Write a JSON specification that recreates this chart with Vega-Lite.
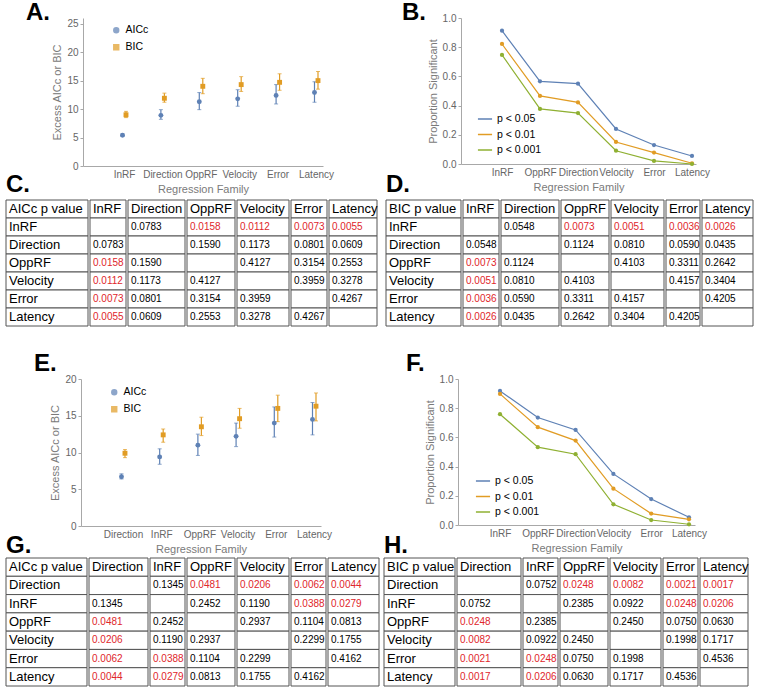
{
"$schema": "https://vega.github.io/schema/vega-lite/v6.json",
"background": "white",
"padding": {"left": 5, "top": 1, "right": 0, "bottom": 0},
"config": {
  "view": {"stroke": null},
  "axis": {"domainColor": "#a8a8a8", "tickColor": "#a8a8a8", "labelColor": "#666666", "titleColor": "#7a7a7a", "labelFont": "Liberation Sans", "titleFont": "Liberation Sans", "labelFontSize": 10, "titleFontSize": 11, "titleFontWeight": "normal", "grid": false, "tickSize": 3, "labelOverlap": false},
  "title": {"anchor": "start", "frame": "group", "font": "Liberation Sans", "fontSize": 24, "fontWeight": "bold", "color": "black"},
  "legend": {"labelFont": "Liberation Sans", "labelFontSize": 10.5, "labelColor": "black", "title": null, "padding": 0},
  "scale": {"bandPaddingInner": 0, "bandPaddingOuter": 0, "rectBandPaddingInner": 0},
  "rect": {"fill": "white", "stroke": "#555555", "strokeWidth": 1},
  "text": {"font": "Liberation Sans", "align": "left", "dx": 3, "baseline": "middle"}
},
"datasets": {
  "aicA": [
    {"family": "InRF", "criterion": "AICc", "value": 5.4, "lo": 5.2, "hi": 5.6},
    {"family": "InRF", "criterion": "BIC", "value": 9.0, "lo": 8.5, "hi": 9.6},
    {"family": "Direction", "criterion": "AICc", "value": 8.9, "lo": 8.2, "hi": 9.9},
    {"family": "Direction", "criterion": "BIC", "value": 11.9, "lo": 11.2, "hi": 12.8},
    {"family": "OppRF", "criterion": "AICc", "value": 11.3, "lo": 9.9, "hi": 12.9},
    {"family": "OppRF", "criterion": "BIC", "value": 14.0, "lo": 12.7, "hi": 15.4},
    {"family": "Velocity", "criterion": "AICc", "value": 11.8, "lo": 10.5, "hi": 13.4},
    {"family": "Velocity", "criterion": "BIC", "value": 14.3, "lo": 13.1, "hi": 15.7},
    {"family": "Error", "criterion": "AICc", "value": 12.4, "lo": 10.9, "hi": 14.3},
    {"family": "Error", "criterion": "BIC", "value": 14.7, "lo": 13.3, "hi": 16.2},
    {"family": "Latency", "criterion": "AICc", "value": 12.9, "lo": 11.2, "hi": 14.8},
    {"family": "Latency", "criterion": "BIC", "value": 15.0, "lo": 13.5, "hi": 16.6}
  ],
  "propB": [
    {"family": "InRF", "threshold": "p < 0.05", "proportion": 0.913},
    {"family": "OppRF", "threshold": "p < 0.05", "proportion": 0.566},
    {"family": "Direction", "threshold": "p < 0.05", "proportion": 0.550},
    {"family": "Velocity", "threshold": "p < 0.05", "proportion": 0.240},
    {"family": "Error", "threshold": "p < 0.05", "proportion": 0.130},
    {"family": "Latency", "threshold": "p < 0.05", "proportion": 0.055},
    {"family": "InRF", "threshold": "p < 0.01", "proportion": 0.822},
    {"family": "OppRF", "threshold": "p < 0.01", "proportion": 0.466},
    {"family": "Direction", "threshold": "p < 0.01", "proportion": 0.422},
    {"family": "Velocity", "threshold": "p < 0.01", "proportion": 0.151},
    {"family": "Error", "threshold": "p < 0.01", "proportion": 0.078},
    {"family": "Latency", "threshold": "p < 0.01", "proportion": 0.005},
    {"family": "InRF", "threshold": "p < 0.001", "proportion": 0.747},
    {"family": "OppRF", "threshold": "p < 0.001", "proportion": 0.377},
    {"family": "Direction", "threshold": "p < 0.001", "proportion": 0.349},
    {"family": "Velocity", "threshold": "p < 0.001", "proportion": 0.091},
    {"family": "Error", "threshold": "p < 0.001", "proportion": 0.021},
    {"family": "Latency", "threshold": "p < 0.001", "proportion": 0.0}
  ],
  "aicE": [
    {"family": "Direction", "criterion": "AICc", "value": 6.7, "lo": 6.4, "hi": 7.1},
    {"family": "Direction", "criterion": "BIC", "value": 9.9, "lo": 9.3, "hi": 10.4},
    {"family": "InRF", "criterion": "AICc", "value": 9.4, "lo": 8.4, "hi": 10.5},
    {"family": "InRF", "criterion": "BIC", "value": 12.4, "lo": 11.4, "hi": 13.2},
    {"family": "OppRF", "criterion": "AICc", "value": 11.0, "lo": 9.6, "hi": 12.5},
    {"family": "OppRF", "criterion": "BIC", "value": 13.5, "lo": 12.3, "hi": 14.8},
    {"family": "Velocity", "criterion": "AICc", "value": 12.2, "lo": 10.8, "hi": 14.0},
    {"family": "Velocity", "criterion": "BIC", "value": 14.6, "lo": 13.3, "hi": 16.0},
    {"family": "Error", "criterion": "AICc", "value": 14.0, "lo": 12.1, "hi": 16.2},
    {"family": "Error", "criterion": "BIC", "value": 16.0, "lo": 14.2, "hi": 17.8},
    {"family": "Latency", "criterion": "AICc", "value": 14.5, "lo": 12.4, "hi": 16.8},
    {"family": "Latency", "criterion": "BIC", "value": 16.3, "lo": 14.3, "hi": 18.1}
  ],
  "propF": [
    {"family": "InRF", "threshold": "p < 0.05", "proportion": 0.918},
    {"family": "OppRF", "threshold": "p < 0.05", "proportion": 0.736},
    {"family": "Direction", "threshold": "p < 0.05", "proportion": 0.651},
    {"family": "Velocity", "threshold": "p < 0.05", "proportion": 0.350},
    {"family": "Error", "threshold": "p < 0.05", "proportion": 0.178},
    {"family": "Latency", "threshold": "p < 0.05", "proportion": 0.053},
    {"family": "InRF", "threshold": "p < 0.01", "proportion": 0.898},
    {"family": "OppRF", "threshold": "p < 0.01", "proportion": 0.670},
    {"family": "Direction", "threshold": "p < 0.01", "proportion": 0.578},
    {"family": "Velocity", "threshold": "p < 0.01", "proportion": 0.249},
    {"family": "Error", "threshold": "p < 0.01", "proportion": 0.078},
    {"family": "Latency", "threshold": "p < 0.01", "proportion": 0.039},
    {"family": "InRF", "threshold": "p < 0.001", "proportion": 0.759},
    {"family": "OppRF", "threshold": "p < 0.001", "proportion": 0.533},
    {"family": "Direction", "threshold": "p < 0.001", "proportion": 0.485},
    {"family": "Velocity", "threshold": "p < 0.001", "proportion": 0.142},
    {"family": "Error", "threshold": "p < 0.001", "proportion": 0.034},
    {"family": "Latency", "threshold": "p < 0.001", "proportion": 0.005}
  ],
  "tC": [
    {"row": "header", "col": "label", "value": "AICc p value"},
    {"row": "header", "col": "InRF", "value": "InRF"},
    {"row": "header", "col": "Direction", "value": "Direction"},
    {"row": "header", "col": "OppRF", "value": "OppRF"},
    {"row": "header", "col": "Velocity", "value": "Velocity"},
    {"row": "header", "col": "Error", "value": "Error"},
    {"row": "header", "col": "Latency", "value": "Latency"},
    {"row": "InRF", "col": "label", "value": "InRF"},
    {"row": "InRF", "col": "InRF", "value": ""},
    {"row": "InRF", "col": "Direction", "value": "0.0783"},
    {"row": "InRF", "col": "OppRF", "value": "0.0158", "sig": true},
    {"row": "InRF", "col": "Velocity", "value": "0.0112", "sig": true},
    {"row": "InRF", "col": "Error", "value": "0.0073", "sig": true},
    {"row": "InRF", "col": "Latency", "value": "0.0055", "sig": true},
    {"row": "Direction", "col": "label", "value": "Direction"},
    {"row": "Direction", "col": "InRF", "value": "0.0783"},
    {"row": "Direction", "col": "Direction", "value": ""},
    {"row": "Direction", "col": "OppRF", "value": "0.1590"},
    {"row": "Direction", "col": "Velocity", "value": "0.1173"},
    {"row": "Direction", "col": "Error", "value": "0.0801"},
    {"row": "Direction", "col": "Latency", "value": "0.0609"},
    {"row": "OppRF", "col": "label", "value": "OppRF"},
    {"row": "OppRF", "col": "InRF", "value": "0.0158", "sig": true},
    {"row": "OppRF", "col": "Direction", "value": "0.1590"},
    {"row": "OppRF", "col": "OppRF", "value": ""},
    {"row": "OppRF", "col": "Velocity", "value": "0.4127"},
    {"row": "OppRF", "col": "Error", "value": "0.3154"},
    {"row": "OppRF", "col": "Latency", "value": "0.2553"},
    {"row": "Velocity", "col": "label", "value": "Velocity"},
    {"row": "Velocity", "col": "InRF", "value": "0.0112", "sig": true},
    {"row": "Velocity", "col": "Direction", "value": "0.1173"},
    {"row": "Velocity", "col": "OppRF", "value": "0.4127"},
    {"row": "Velocity", "col": "Velocity", "value": ""},
    {"row": "Velocity", "col": "Error", "value": "0.3959"},
    {"row": "Velocity", "col": "Latency", "value": "0.3278"},
    {"row": "Error", "col": "label", "value": "Error"},
    {"row": "Error", "col": "InRF", "value": "0.0073", "sig": true},
    {"row": "Error", "col": "Direction", "value": "0.0801"},
    {"row": "Error", "col": "OppRF", "value": "0.3154"},
    {"row": "Error", "col": "Velocity", "value": "0.3959"},
    {"row": "Error", "col": "Error", "value": ""},
    {"row": "Error", "col": "Latency", "value": "0.4267"},
    {"row": "Latency", "col": "label", "value": "Latency"},
    {"row": "Latency", "col": "InRF", "value": "0.0055", "sig": true},
    {"row": "Latency", "col": "Direction", "value": "0.0609"},
    {"row": "Latency", "col": "OppRF", "value": "0.2553"},
    {"row": "Latency", "col": "Velocity", "value": "0.3278"},
    {"row": "Latency", "col": "Error", "value": "0.4267"},
    {"row": "Latency", "col": "Latency", "value": ""}
  ],
  "tD": [
    {"row": "header", "col": "label", "value": "BIC p value"},
    {"row": "header", "col": "InRF", "value": "InRF"},
    {"row": "header", "col": "Direction", "value": "Direction"},
    {"row": "header", "col": "OppRF", "value": "OppRF"},
    {"row": "header", "col": "Velocity", "value": "Velocity"},
    {"row": "header", "col": "Error", "value": "Error"},
    {"row": "header", "col": "Latency", "value": "Latency"},
    {"row": "InRF", "col": "label", "value": "InRF"},
    {"row": "InRF", "col": "InRF", "value": ""},
    {"row": "InRF", "col": "Direction", "value": "0.0548"},
    {"row": "InRF", "col": "OppRF", "value": "0.0073", "sig": true},
    {"row": "InRF", "col": "Velocity", "value": "0.0051", "sig": true},
    {"row": "InRF", "col": "Error", "value": "0.0036", "sig": true},
    {"row": "InRF", "col": "Latency", "value": "0.0026", "sig": true},
    {"row": "Direction", "col": "label", "value": "Direction"},
    {"row": "Direction", "col": "InRF", "value": "0.0548"},
    {"row": "Direction", "col": "Direction", "value": ""},
    {"row": "Direction", "col": "OppRF", "value": "0.1124"},
    {"row": "Direction", "col": "Velocity", "value": "0.0810"},
    {"row": "Direction", "col": "Error", "value": "0.0590"},
    {"row": "Direction", "col": "Latency", "value": "0.0435"},
    {"row": "OppRF", "col": "label", "value": "OppRF"},
    {"row": "OppRF", "col": "InRF", "value": "0.0073", "sig": true},
    {"row": "OppRF", "col": "Direction", "value": "0.1124"},
    {"row": "OppRF", "col": "OppRF", "value": ""},
    {"row": "OppRF", "col": "Velocity", "value": "0.4103"},
    {"row": "OppRF", "col": "Error", "value": "0.3311"},
    {"row": "OppRF", "col": "Latency", "value": "0.2642"},
    {"row": "Velocity", "col": "label", "value": "Velocity"},
    {"row": "Velocity", "col": "InRF", "value": "0.0051", "sig": true},
    {"row": "Velocity", "col": "Direction", "value": "0.0810"},
    {"row": "Velocity", "col": "OppRF", "value": "0.4103"},
    {"row": "Velocity", "col": "Velocity", "value": ""},
    {"row": "Velocity", "col": "Error", "value": "0.4157"},
    {"row": "Velocity", "col": "Latency", "value": "0.3404"},
    {"row": "Error", "col": "label", "value": "Error"},
    {"row": "Error", "col": "InRF", "value": "0.0036", "sig": true},
    {"row": "Error", "col": "Direction", "value": "0.0590"},
    {"row": "Error", "col": "OppRF", "value": "0.3311"},
    {"row": "Error", "col": "Velocity", "value": "0.4157"},
    {"row": "Error", "col": "Error", "value": ""},
    {"row": "Error", "col": "Latency", "value": "0.4205"},
    {"row": "Latency", "col": "label", "value": "Latency"},
    {"row": "Latency", "col": "InRF", "value": "0.0026", "sig": true},
    {"row": "Latency", "col": "Direction", "value": "0.0435"},
    {"row": "Latency", "col": "OppRF", "value": "0.2642"},
    {"row": "Latency", "col": "Velocity", "value": "0.3404"},
    {"row": "Latency", "col": "Error", "value": "0.4205"},
    {"row": "Latency", "col": "Latency", "value": ""}
  ],
  "tG": [
    {"row": "header", "col": "label", "value": "AICc p value"},
    {"row": "header", "col": "Direction", "value": "Direction"},
    {"row": "header", "col": "InRF", "value": "InRF"},
    {"row": "header", "col": "OppRF", "value": "OppRF"},
    {"row": "header", "col": "Velocity", "value": "Velocity"},
    {"row": "header", "col": "Error", "value": "Error"},
    {"row": "header", "col": "Latency", "value": "Latency"},
    {"row": "Direction", "col": "label", "value": "Direction"},
    {"row": "Direction", "col": "Direction", "value": ""},
    {"row": "Direction", "col": "InRF", "value": "0.1345"},
    {"row": "Direction", "col": "OppRF", "value": "0.0481", "sig": true},
    {"row": "Direction", "col": "Velocity", "value": "0.0206", "sig": true},
    {"row": "Direction", "col": "Error", "value": "0.0062", "sig": true},
    {"row": "Direction", "col": "Latency", "value": "0.0044", "sig": true},
    {"row": "InRF", "col": "label", "value": "InRF"},
    {"row": "InRF", "col": "Direction", "value": "0.1345"},
    {"row": "InRF", "col": "InRF", "value": ""},
    {"row": "InRF", "col": "OppRF", "value": "0.2452"},
    {"row": "InRF", "col": "Velocity", "value": "0.1190"},
    {"row": "InRF", "col": "Error", "value": "0.0388", "sig": true},
    {"row": "InRF", "col": "Latency", "value": "0.0279", "sig": true},
    {"row": "OppRF", "col": "label", "value": "OppRF"},
    {"row": "OppRF", "col": "Direction", "value": "0.0481", "sig": true},
    {"row": "OppRF", "col": "InRF", "value": "0.2452"},
    {"row": "OppRF", "col": "OppRF", "value": ""},
    {"row": "OppRF", "col": "Velocity", "value": "0.2937"},
    {"row": "OppRF", "col": "Error", "value": "0.1104"},
    {"row": "OppRF", "col": "Latency", "value": "0.0813"},
    {"row": "Velocity", "col": "label", "value": "Velocity"},
    {"row": "Velocity", "col": "Direction", "value": "0.0206", "sig": true},
    {"row": "Velocity", "col": "InRF", "value": "0.1190"},
    {"row": "Velocity", "col": "OppRF", "value": "0.2937"},
    {"row": "Velocity", "col": "Velocity", "value": ""},
    {"row": "Velocity", "col": "Error", "value": "0.2299"},
    {"row": "Velocity", "col": "Latency", "value": "0.1755"},
    {"row": "Error", "col": "label", "value": "Error"},
    {"row": "Error", "col": "Direction", "value": "0.0062", "sig": true},
    {"row": "Error", "col": "InRF", "value": "0.0388", "sig": true},
    {"row": "Error", "col": "OppRF", "value": "0.1104"},
    {"row": "Error", "col": "Velocity", "value": "0.2299"},
    {"row": "Error", "col": "Error", "value": ""},
    {"row": "Error", "col": "Latency", "value": "0.4162"},
    {"row": "Latency", "col": "label", "value": "Latency"},
    {"row": "Latency", "col": "Direction", "value": "0.0044", "sig": true},
    {"row": "Latency", "col": "InRF", "value": "0.0279", "sig": true},
    {"row": "Latency", "col": "OppRF", "value": "0.0813"},
    {"row": "Latency", "col": "Velocity", "value": "0.1755"},
    {"row": "Latency", "col": "Error", "value": "0.4162"},
    {"row": "Latency", "col": "Latency", "value": ""}
  ],
  "tH": [
    {"row": "header", "col": "label", "value": "BIC p value"},
    {"row": "header", "col": "Direction", "value": "Direction"},
    {"row": "header", "col": "InRF", "value": "InRF"},
    {"row": "header", "col": "OppRF", "value": "OppRF"},
    {"row": "header", "col": "Velocity", "value": "Velocity"},
    {"row": "header", "col": "Error", "value": "Error"},
    {"row": "header", "col": "Latency", "value": "Latency"},
    {"row": "Direction", "col": "label", "value": "Direction"},
    {"row": "Direction", "col": "Direction", "value": ""},
    {"row": "Direction", "col": "InRF", "value": "0.0752"},
    {"row": "Direction", "col": "OppRF", "value": "0.0248", "sig": true},
    {"row": "Direction", "col": "Velocity", "value": "0.0082", "sig": true},
    {"row": "Direction", "col": "Error", "value": "0.0021", "sig": true},
    {"row": "Direction", "col": "Latency", "value": "0.0017", "sig": true},
    {"row": "InRF", "col": "label", "value": "InRF"},
    {"row": "InRF", "col": "Direction", "value": "0.0752"},
    {"row": "InRF", "col": "InRF", "value": ""},
    {"row": "InRF", "col": "OppRF", "value": "0.2385"},
    {"row": "InRF", "col": "Velocity", "value": "0.0922"},
    {"row": "InRF", "col": "Error", "value": "0.0248", "sig": true},
    {"row": "InRF", "col": "Latency", "value": "0.0206", "sig": true},
    {"row": "OppRF", "col": "label", "value": "OppRF"},
    {"row": "OppRF", "col": "Direction", "value": "0.0248", "sig": true},
    {"row": "OppRF", "col": "InRF", "value": "0.2385"},
    {"row": "OppRF", "col": "OppRF", "value": ""},
    {"row": "OppRF", "col": "Velocity", "value": "0.2450"},
    {"row": "OppRF", "col": "Error", "value": "0.0750"},
    {"row": "OppRF", "col": "Latency", "value": "0.0630"},
    {"row": "Velocity", "col": "label", "value": "Velocity"},
    {"row": "Velocity", "col": "Direction", "value": "0.0082", "sig": true},
    {"row": "Velocity", "col": "InRF", "value": "0.0922"},
    {"row": "Velocity", "col": "OppRF", "value": "0.2450"},
    {"row": "Velocity", "col": "Velocity", "value": ""},
    {"row": "Velocity", "col": "Error", "value": "0.1998"},
    {"row": "Velocity", "col": "Latency", "value": "0.1717"},
    {"row": "Error", "col": "label", "value": "Error"},
    {"row": "Error", "col": "Direction", "value": "0.0021", "sig": true},
    {"row": "Error", "col": "InRF", "value": "0.0248", "sig": true},
    {"row": "Error", "col": "OppRF", "value": "0.0750"},
    {"row": "Error", "col": "Velocity", "value": "0.1998"},
    {"row": "Error", "col": "Error", "value": ""},
    {"row": "Error", "col": "Latency", "value": "0.4536"},
    {"row": "Latency", "col": "label", "value": "Latency"},
    {"row": "Latency", "col": "Direction", "value": "0.0017", "sig": true},
    {"row": "Latency", "col": "InRF", "value": "0.0206", "sig": true},
    {"row": "Latency", "col": "OppRF", "value": "0.0630"},
    {"row": "Latency", "col": "Velocity", "value": "0.1717"},
    {"row": "Latency", "col": "Error", "value": "0.4536"},
    {"row": "Latency", "col": "Latency", "value": ""}
  ]
},
"spacing": 25,
"resolve": {"scale": {"color": "independent", "shape": "independent"}, "legend": {"color": "independent", "shape": "independent"}},
"vconcat": [
 {"spacing": -22,
  "resolve": {"scale": {"color": "independent", "shape": "independent"}, "legend": {"color": "independent", "shape": "independent"}},
  "vconcat": [
  {"spacing": 68,
   "resolve": {"scale": {"color": "independent", "shape": "independent"}, "legend": {"color": "independent", "shape": "independent"}},
   "hconcat": [
   {"width": 317, "height": 148, "title": {"text": "A.", "dx": 20, "offset": -7},
    "data": {"name": "aicA"},
    "encoding": {"x": {"field": "family", "type": "nominal", "scale": {"type": "point", "domain": ["InRF", "Direction", "OppRF", "Velocity", "Error", "Latency"], "range": [77, 317], "padding": 0.625, "align": 0.854}, "axis": {"title": "Regression Family", "labelAngle": 0, "tickSize": 0, "labelPadding": 3, "titlePadding": 4}}},
    "layer": [
     {"mark": {"type": "rule", "strokeWidth": 1.2, "xOffset": {"expr": "datum.criterion === 'AICc' ? -1.5 : 2"}}, "encoding": {"y": {"field": "lo", "type": "quantitative", "scale": {"domain": [0, 25]}, "axis": {"title": "Excess AICc or BIC", "values": [0, 5, 10, 15, 20, 25], "titlePadding": 4, "offset": -77}}, "y2": {"field": "hi"}, "color": {"field": "criterion", "type": "nominal", "scale": {"domain": ["AICc", "BIC"], "range": ["#5E81B5", "#E19C24"]}}}},
     {"mark": {"type": "tick", "thickness": 1, "size": 4, "xOffset": {"expr": "datum.criterion === 'AICc' ? -1.5 : 2"}}, "encoding": {"y": {"field": "lo", "type": "quantitative", "axis": {"title": "Excess AICc or BIC", "values": [0, 5, 10, 15, 20, 25], "titlePadding": 4, "offset": -77}}, "color": {"field": "criterion", "type": "nominal"}}},
     {"mark": {"type": "tick", "thickness": 1, "size": 4, "xOffset": {"expr": "datum.criterion === 'AICc' ? -1.5 : 2"}}, "encoding": {"y": {"field": "hi", "type": "quantitative", "axis": {"title": "Excess AICc or BIC", "values": [0, 5, 10, 15, 20, 25], "titlePadding": 4, "offset": -77}}, "color": {"field": "criterion", "type": "nominal"}}},
     {"mark": {"type": "point", "filled": true, "opacity": 1, "size": 24, "xOffset": {"expr": "datum.criterion === 'AICc' ? -1.5 : 2"}}, "encoding": {"y": {"field": "value", "type": "quantitative", "axis": {"title": "Excess AICc or BIC", "values": [0, 5, 10, 15, 20, 25], "titlePadding": 4, "offset": -77}}, "color": {"field": "criterion", "type": "nominal", "legend": {"orient": "none", "legendX": 105, "legendY": 7, "symbolSize": 24, "rowPadding": 5}}, "shape": {"field": "criterion", "type": "nominal", "scale": {"domain": ["AICc", "BIC"], "range": ["circle", "square"]}, "legend": {"orient": "none", "legendX": 105, "legendY": 7, "symbolSize": 24, "rowPadding": 5}}}}
    ]},
   {"width": 235, "height": 146, "title": {"text": "B.", "dx": -59, "offset": -12},
    "data": {"name": "propB"},
    "encoding": {
     "x": {"field": "family", "type": "nominal", "scale": {"type": "point", "domain": ["InRF", "OppRF", "Direction", "Velocity", "Error", "Latency"], "padding": 0.592, "align": 0.911}, "axis": {"title": "Regression Family", "labelAngle": 0, "tickSize": 0, "labelPadding": 3, "titlePadding": 4}},
     "y": {"field": "proportion", "type": "quantitative", "scale": {"domain": [0, 1]}, "axis": {"title": "Proportion Significant", "values": [0, 0.2, 0.4, 0.6, 0.8, 1], "format": ".1f", "titlePadding": 4}},
     "color": {"field": "threshold", "type": "nominal", "scale": {"domain": ["p < 0.05", "p < 0.01", "p < 0.001"], "range": ["#5E81B5", "#E19C24", "#8FB032"]}, "legend": {"orient": "none", "legendX": 16, "legendY": 93, "symbolType": "stroke", "symbolSize": 200, "symbolStrokeWidth": 1.5, "rowPadding": 1.5}},
     "order": {"value": null}},
    "layer": [
     {"mark": {"type": "line", "strokeWidth": 1.2}},
     {"mark": {"type": "point", "filled": true, "opacity": 1, "size": 18, "shape": "circle"}}
    ]}
  ]},
  {"spacing": 7, "hconcat": [
   {"title": {"text": "C.", "offset": 3}, "spacing": 0, "hconcat": [
    {"width": 82, "height": 126, "data": {"name": "tC"}, "transform": [{"filter": "datum.col === 'label'"}], "encoding": {"y": {"field": "row", "type": "nominal", "scale": {"domain": ["header", "InRF", "Direction", "OppRF", "Velocity", "Error", "Latency"]}, "axis": null}, "x": {"datum": "c", "type": "nominal", "axis": null}}, "layer": [{"mark": "rect"}, {"mark": "text", "encoding": {"x": {"datum": "c", "type": "nominal", "bandPosition": 0, "axis": null}, "text": {"field": "value"}, "color": {"condition": {"test": "datum.sig", "value": "#e0262b"}, "value": "black"}, "size": {"condition": {"test": "datum.row === 'header' || datum.col === 'label'", "value": 13}, "value": 10}}}]},
    {"width": 36, "height": 126, "data": {"name": "tC"}, "transform": [{"filter": "datum.col === 'InRF'"}], "encoding": {"y": {"field": "row", "type": "nominal", "scale": {"domain": ["header", "InRF", "Direction", "OppRF", "Velocity", "Error", "Latency"]}, "axis": null}, "x": {"datum": "c", "type": "nominal", "axis": null}}, "layer": [{"mark": "rect"}, {"mark": "text", "encoding": {"x": {"datum": "c", "type": "nominal", "bandPosition": 0, "axis": null}, "text": {"field": "value"}, "color": {"condition": {"test": "datum.sig", "value": "#e0262b"}, "value": "black"}, "size": {"condition": {"test": "datum.row === 'header' || datum.col === 'label'", "value": 13}, "value": 10}}}]},
    {"width": 57, "height": 126, "data": {"name": "tC"}, "transform": [{"filter": "datum.col === 'Direction'"}], "encoding": {"y": {"field": "row", "type": "nominal", "scale": {"domain": ["header", "InRF", "Direction", "OppRF", "Velocity", "Error", "Latency"]}, "axis": null}, "x": {"datum": "c", "type": "nominal", "axis": null}}, "layer": [{"mark": "rect"}, {"mark": "text", "encoding": {"x": {"datum": "c", "type": "nominal", "bandPosition": 0, "axis": null}, "text": {"field": "value"}, "color": {"condition": {"test": "datum.sig", "value": "#e0262b"}, "value": "black"}, "size": {"condition": {"test": "datum.row === 'header' || datum.col === 'label'", "value": 13}, "value": 10}}}]},
    {"width": 48, "height": 126, "data": {"name": "tC"}, "transform": [{"filter": "datum.col === 'OppRF'"}], "encoding": {"y": {"field": "row", "type": "nominal", "scale": {"domain": ["header", "InRF", "Direction", "OppRF", "Velocity", "Error", "Latency"]}, "axis": null}, "x": {"datum": "c", "type": "nominal", "axis": null}}, "layer": [{"mark": "rect"}, {"mark": "text", "encoding": {"x": {"datum": "c", "type": "nominal", "bandPosition": 0, "axis": null}, "text": {"field": "value"}, "color": {"condition": {"test": "datum.sig", "value": "#e0262b"}, "value": "black"}, "size": {"condition": {"test": "datum.row === 'header' || datum.col === 'label'", "value": 13}, "value": 10}}}]},
    {"width": 52, "height": 126, "data": {"name": "tC"}, "transform": [{"filter": "datum.col === 'Velocity'"}], "encoding": {"y": {"field": "row", "type": "nominal", "scale": {"domain": ["header", "InRF", "Direction", "OppRF", "Velocity", "Error", "Latency"]}, "axis": null}, "x": {"datum": "c", "type": "nominal", "axis": null}}, "layer": [{"mark": "rect"}, {"mark": "text", "encoding": {"x": {"datum": "c", "type": "nominal", "bandPosition": 0, "axis": null}, "text": {"field": "value"}, "color": {"condition": {"test": "datum.sig", "value": "#e0262b"}, "value": "black"}, "size": {"condition": {"test": "datum.row === 'header' || datum.col === 'label'", "value": 13}, "value": 10}}}]},
    {"width": 36, "height": 126, "data": {"name": "tC"}, "transform": [{"filter": "datum.col === 'Error'"}], "encoding": {"y": {"field": "row", "type": "nominal", "scale": {"domain": ["header", "InRF", "Direction", "OppRF", "Velocity", "Error", "Latency"]}, "axis": null}, "x": {"datum": "c", "type": "nominal", "axis": null}}, "layer": [{"mark": "rect"}, {"mark": "text", "encoding": {"x": {"datum": "c", "type": "nominal", "bandPosition": 0, "axis": null}, "text": {"field": "value"}, "color": {"condition": {"test": "datum.sig", "value": "#e0262b"}, "value": "black"}, "size": {"condition": {"test": "datum.row === 'header' || datum.col === 'label'", "value": 13}, "value": 10}}}]},
    {"width": 48, "height": 126, "data": {"name": "tC"}, "transform": [{"filter": "datum.col === 'Latency'"}], "encoding": {"y": {"field": "row", "type": "nominal", "scale": {"domain": ["header", "InRF", "Direction", "OppRF", "Velocity", "Error", "Latency"]}, "axis": null}, "x": {"datum": "c", "type": "nominal", "axis": null}}, "layer": [{"mark": "rect"}, {"mark": "text", "encoding": {"x": {"datum": "c", "type": "nominal", "bandPosition": 0, "axis": null}, "text": {"field": "value"}, "color": {"condition": {"test": "datum.sig", "value": "#e0262b"}, "value": "black"}, "size": {"condition": {"test": "datum.row === 'header' || datum.col === 'label'", "value": 13}, "value": 10}}}]}
   ]},
   {"title": {"text": "D.", "offset": 3}, "spacing": 0, "hconcat": [
    {"width": 75, "height": 126, "data": {"name": "tD"}, "transform": [{"filter": "datum.col === 'label'"}], "encoding": {"y": {"field": "row", "type": "nominal", "scale": {"domain": ["header", "InRF", "Direction", "OppRF", "Velocity", "Error", "Latency"]}, "axis": null}, "x": {"datum": "c", "type": "nominal", "axis": null}}, "layer": [{"mark": "rect"}, {"mark": "text", "encoding": {"x": {"datum": "c", "type": "nominal", "bandPosition": 0, "axis": null}, "text": {"field": "value"}, "color": {"condition": {"test": "datum.sig", "value": "#e0262b"}, "value": "black"}, "size": {"condition": {"test": "datum.row === 'header' || datum.col === 'label'", "value": 13}, "value": 10}}}]},
    {"width": 36, "height": 126, "data": {"name": "tD"}, "transform": [{"filter": "datum.col === 'InRF'"}], "encoding": {"y": {"field": "row", "type": "nominal", "scale": {"domain": ["header", "InRF", "Direction", "OppRF", "Velocity", "Error", "Latency"]}, "axis": null}, "x": {"datum": "c", "type": "nominal", "axis": null}}, "layer": [{"mark": "rect"}, {"mark": "text", "encoding": {"x": {"datum": "c", "type": "nominal", "bandPosition": 0, "axis": null}, "text": {"field": "value"}, "color": {"condition": {"test": "datum.sig", "value": "#e0262b"}, "value": "black"}, "size": {"condition": {"test": "datum.row === 'header' || datum.col === 'label'", "value": 13}, "value": 10}}}]},
    {"width": 58, "height": 126, "data": {"name": "tD"}, "transform": [{"filter": "datum.col === 'Direction'"}], "encoding": {"y": {"field": "row", "type": "nominal", "scale": {"domain": ["header", "InRF", "Direction", "OppRF", "Velocity", "Error", "Latency"]}, "axis": null}, "x": {"datum": "c", "type": "nominal", "axis": null}}, "layer": [{"mark": "rect"}, {"mark": "text", "encoding": {"x": {"datum": "c", "type": "nominal", "bandPosition": 0, "axis": null}, "text": {"field": "value"}, "color": {"condition": {"test": "datum.sig", "value": "#e0262b"}, "value": "black"}, "size": {"condition": {"test": "datum.row === 'header' || datum.col === 'label'", "value": 13}, "value": 10}}}]},
    {"width": 48, "height": 126, "data": {"name": "tD"}, "transform": [{"filter": "datum.col === 'OppRF'"}], "encoding": {"y": {"field": "row", "type": "nominal", "scale": {"domain": ["header", "InRF", "Direction", "OppRF", "Velocity", "Error", "Latency"]}, "axis": null}, "x": {"datum": "c", "type": "nominal", "axis": null}}, "layer": [{"mark": "rect"}, {"mark": "text", "encoding": {"x": {"datum": "c", "type": "nominal", "bandPosition": 0, "axis": null}, "text": {"field": "value"}, "color": {"condition": {"test": "datum.sig", "value": "#e0262b"}, "value": "black"}, "size": {"condition": {"test": "datum.row === 'header' || datum.col === 'label'", "value": 13}, "value": 10}}}]},
    {"width": 53, "height": 126, "data": {"name": "tD"}, "transform": [{"filter": "datum.col === 'Velocity'"}], "encoding": {"y": {"field": "row", "type": "nominal", "scale": {"domain": ["header", "InRF", "Direction", "OppRF", "Velocity", "Error", "Latency"]}, "axis": null}, "x": {"datum": "c", "type": "nominal", "axis": null}}, "layer": [{"mark": "rect"}, {"mark": "text", "encoding": {"x": {"datum": "c", "type": "nominal", "bandPosition": 0, "axis": null}, "text": {"field": "value"}, "color": {"condition": {"test": "datum.sig", "value": "#e0262b"}, "value": "black"}, "size": {"condition": {"test": "datum.row === 'header' || datum.col === 'label'", "value": 13}, "value": 10}}}]},
    {"width": 34, "height": 126, "data": {"name": "tD"}, "transform": [{"filter": "datum.col === 'Error'"}], "encoding": {"y": {"field": "row", "type": "nominal", "scale": {"domain": ["header", "InRF", "Direction", "OppRF", "Velocity", "Error", "Latency"]}, "axis": null}, "x": {"datum": "c", "type": "nominal", "axis": null}}, "layer": [{"mark": "rect"}, {"mark": "text", "encoding": {"x": {"datum": "c", "type": "nominal", "bandPosition": 0, "axis": null}, "text": {"field": "value"}, "color": {"condition": {"test": "datum.sig", "value": "#e0262b"}, "value": "black"}, "size": {"condition": {"test": "datum.row === 'header' || datum.col === 'label'", "value": 13}, "value": 10}}}]},
    {"width": 51, "height": 126, "data": {"name": "tD"}, "transform": [{"filter": "datum.col === 'Latency'"}], "encoding": {"y": {"field": "row", "type": "nominal", "scale": {"domain": ["header", "InRF", "Direction", "OppRF", "Velocity", "Error", "Latency"]}, "axis": null}, "x": {"datum": "c", "type": "nominal", "axis": null}}, "layer": [{"mark": "rect"}, {"mark": "text", "encoding": {"x": {"datum": "c", "type": "nominal", "bandPosition": 0, "axis": null}, "text": {"field": "value"}, "color": {"condition": {"test": "datum.sig", "value": "#e0262b"}, "value": "black"}, "size": {"condition": {"test": "datum.row === 'header' || datum.col === 'label'", "value": 13}, "value": 10}}}]}
   ]}
  ]}
 ]},
 {"spacing": -21,
  "resolve": {"scale": {"color": "independent", "shape": "independent"}, "legend": {"color": "independent", "shape": "independent"}},
  "vconcat": [
  {"spacing": 74,
   "resolve": {"scale": {"color": "independent", "shape": "independent"}, "legend": {"color": "independent", "shape": "independent"}},
   "hconcat": [
   {"width": 315, "height": 147, "title": {"text": "E.", "dx": 28, "offset": -2},
    "data": {"name": "aicE"},
    "encoding": {"x": {"field": "family", "type": "nominal", "scale": {"type": "point", "domain": ["Direction", "InRF", "OppRF", "Velocity", "Error", "Latency"], "range": [75, 315], "padding": 0.641, "align": 0.857}, "axis": {"title": "Regression Family", "labelAngle": 0, "tickSize": 0, "labelPadding": 3, "titlePadding": 4}}},
    "layer": [
     {"mark": {"type": "rule", "strokeWidth": 1.2, "xOffset": {"expr": "datum.criterion === 'AICc' ? -1.5 : 2"}}, "encoding": {"y": {"field": "lo", "type": "quantitative", "scale": {"domain": [0, 20]}, "axis": {"title": "Excess AICc or BIC", "values": [0, 5, 10, 15, 20], "titlePadding": 4, "offset": -75}}, "y2": {"field": "hi"}, "color": {"field": "criterion", "type": "nominal", "scale": {"domain": ["AICc", "BIC"], "range": ["#5E81B5", "#E19C24"]}}}},
     {"mark": {"type": "tick", "thickness": 1, "size": 4, "xOffset": {"expr": "datum.criterion === 'AICc' ? -1.5 : 2"}}, "encoding": {"y": {"field": "lo", "type": "quantitative", "axis": {"title": "Excess AICc or BIC", "values": [0, 5, 10, 15, 20], "titlePadding": 4, "offset": -75}}, "color": {"field": "criterion", "type": "nominal"}}},
     {"mark": {"type": "tick", "thickness": 1, "size": 4, "xOffset": {"expr": "datum.criterion === 'AICc' ? -1.5 : 2"}}, "encoding": {"y": {"field": "hi", "type": "quantitative", "axis": {"title": "Excess AICc or BIC", "values": [0, 5, 10, 15, 20], "titlePadding": 4, "offset": -75}}, "color": {"field": "criterion", "type": "nominal"}}},
     {"mark": {"type": "point", "filled": true, "opacity": 1, "size": 24, "xOffset": {"expr": "datum.criterion === 'AICc' ? -1.5 : 2"}}, "encoding": {"y": {"field": "value", "type": "quantitative", "axis": {"title": "Excess AICc or BIC", "values": [0, 5, 10, 15, 20], "titlePadding": 4, "offset": -75}}, "color": {"field": "criterion", "type": "nominal", "legend": {"orient": "none", "legendX": 103, "legendY": 8, "symbolSize": 24, "rowPadding": 5}}, "shape": {"field": "criterion", "type": "nominal", "scale": {"domain": ["AICc", "BIC"], "range": ["circle", "square"]}, "legend": {"orient": "none", "legendX": 103, "legendY": 8, "symbolSize": 24, "rowPadding": 5}}}}
    ]},
   {"width": 237, "height": 146, "title": {"text": "F.", "dx": -52, "offset": -2},
    "data": {"name": "propF"},
    "encoding": {
     "x": {"field": "family", "type": "nominal", "scale": {"type": "point", "domain": ["InRF", "OppRF", "Direction", "Velocity", "Error", "Latency"], "padding": 0.635, "align": 0.875}, "axis": {"title": "Regression Family", "labelAngle": 0, "tickSize": 0, "labelPadding": 3, "titlePadding": 4}},
     "y": {"field": "proportion", "type": "quantitative", "scale": {"domain": [0, 1]}, "axis": {"title": "Proportion Significant", "values": [0, 0.2, 0.4, 0.6, 0.8, 1], "format": ".1f", "titlePadding": 4}},
     "color": {"field": "threshold", "type": "nominal", "scale": {"domain": ["p < 0.05", "p < 0.01", "p < 0.001"], "range": ["#5E81B5", "#E19C24", "#8FB032"]}, "legend": {"orient": "none", "legendX": 17, "legendY": 94, "symbolType": "stroke", "symbolSize": 200, "symbolStrokeWidth": 1.5, "rowPadding": 1.5}},
     "order": {"value": null}},
    "layer": [
     {"mark": {"type": "line", "strokeWidth": 1.2}},
     {"mark": {"type": "point", "filled": true, "opacity": 1, "size": 18, "shape": "circle"}}
    ]}
  ]},
  {"spacing": 3, "hconcat": [
   {"title": {"text": "G.", "offset": 0}, "spacing": 0, "hconcat": [
    {"width": 81, "height": 128, "data": {"name": "tG"}, "transform": [{"filter": "datum.col === 'label'"}], "encoding": {"y": {"field": "row", "type": "nominal", "scale": {"domain": ["header", "Direction", "InRF", "OppRF", "Velocity", "Error", "Latency"]}, "axis": null}, "x": {"datum": "c", "type": "nominal", "axis": null}}, "layer": [{"mark": "rect"}, {"mark": "text", "encoding": {"x": {"datum": "c", "type": "nominal", "bandPosition": 0, "axis": null}, "text": {"field": "value"}, "color": {"condition": {"test": "datum.sig", "value": "#e0262b"}, "value": "black"}, "size": {"condition": {"test": "datum.row === 'header' || datum.col === 'label'", "value": 13}, "value": 10}}}]},
    {"width": 59, "height": 128, "data": {"name": "tG"}, "transform": [{"filter": "datum.col === 'Direction'"}], "encoding": {"y": {"field": "row", "type": "nominal", "scale": {"domain": ["header", "Direction", "InRF", "OppRF", "Velocity", "Error", "Latency"]}, "axis": null}, "x": {"datum": "c", "type": "nominal", "axis": null}}, "layer": [{"mark": "rect"}, {"mark": "text", "encoding": {"x": {"datum": "c", "type": "nominal", "bandPosition": 0, "axis": null}, "text": {"field": "value"}, "color": {"condition": {"test": "datum.sig", "value": "#e0262b"}, "value": "black"}, "size": {"condition": {"test": "datum.row === 'header' || datum.col === 'label'", "value": 13}, "value": 10}}}]},
    {"width": 35, "height": 128, "data": {"name": "tG"}, "transform": [{"filter": "datum.col === 'InRF'"}], "encoding": {"y": {"field": "row", "type": "nominal", "scale": {"domain": ["header", "Direction", "InRF", "OppRF", "Velocity", "Error", "Latency"]}, "axis": null}, "x": {"datum": "c", "type": "nominal", "axis": null}}, "layer": [{"mark": "rect"}, {"mark": "text", "encoding": {"x": {"datum": "c", "type": "nominal", "bandPosition": 0, "axis": null}, "text": {"field": "value"}, "color": {"condition": {"test": "datum.sig", "value": "#e0262b"}, "value": "black"}, "size": {"condition": {"test": "datum.row === 'header' || datum.col === 'label'", "value": 13}, "value": 10}}}]},
    {"width": 48, "height": 128, "data": {"name": "tG"}, "transform": [{"filter": "datum.col === 'OppRF'"}], "encoding": {"y": {"field": "row", "type": "nominal", "scale": {"domain": ["header", "Direction", "InRF", "OppRF", "Velocity", "Error", "Latency"]}, "axis": null}, "x": {"datum": "c", "type": "nominal", "axis": null}}, "layer": [{"mark": "rect"}, {"mark": "text", "encoding": {"x": {"datum": "c", "type": "nominal", "bandPosition": 0, "axis": null}, "text": {"field": "value"}, "color": {"condition": {"test": "datum.sig", "value": "#e0262b"}, "value": "black"}, "size": {"condition": {"test": "datum.row === 'header' || datum.col === 'label'", "value": 13}, "value": 10}}}]},
    {"width": 52, "height": 128, "data": {"name": "tG"}, "transform": [{"filter": "datum.col === 'Velocity'"}], "encoding": {"y": {"field": "row", "type": "nominal", "scale": {"domain": ["header", "Direction", "InRF", "OppRF", "Velocity", "Error", "Latency"]}, "axis": null}, "x": {"datum": "c", "type": "nominal", "axis": null}}, "layer": [{"mark": "rect"}, {"mark": "text", "encoding": {"x": {"datum": "c", "type": "nominal", "bandPosition": 0, "axis": null}, "text": {"field": "value"}, "color": {"condition": {"test": "datum.sig", "value": "#e0262b"}, "value": "black"}, "size": {"condition": {"test": "datum.row === 'header' || datum.col === 'label'", "value": 13}, "value": 10}}}]},
    {"width": 35, "height": 128, "data": {"name": "tG"}, "transform": [{"filter": "datum.col === 'Error'"}], "encoding": {"y": {"field": "row", "type": "nominal", "scale": {"domain": ["header", "Direction", "InRF", "OppRF", "Velocity", "Error", "Latency"]}, "axis": null}, "x": {"datum": "c", "type": "nominal", "axis": null}}, "layer": [{"mark": "rect"}, {"mark": "text", "encoding": {"x": {"datum": "c", "type": "nominal", "bandPosition": 0, "axis": null}, "text": {"field": "value"}, "color": {"condition": {"test": "datum.sig", "value": "#e0262b"}, "value": "black"}, "size": {"condition": {"test": "datum.row === 'header' || datum.col === 'label'", "value": 13}, "value": 10}}}]},
    {"width": 51, "height": 128, "data": {"name": "tG"}, "transform": [{"filter": "datum.col === 'Latency'"}], "encoding": {"y": {"field": "row", "type": "nominal", "scale": {"domain": ["header", "Direction", "InRF", "OppRF", "Velocity", "Error", "Latency"]}, "axis": null}, "x": {"datum": "c", "type": "nominal", "axis": null}}, "layer": [{"mark": "rect"}, {"mark": "text", "encoding": {"x": {"datum": "c", "type": "nominal", "bandPosition": 0, "axis": null}, "text": {"field": "value"}, "color": {"condition": {"test": "datum.sig", "value": "#e0262b"}, "value": "black"}, "size": {"condition": {"test": "datum.row === 'header' || datum.col === 'label'", "value": 13}, "value": 10}}}]}
   ]},
   {"title": {"text": "H.", "offset": 0}, "spacing": 0, "hconcat": [
    {"width": 71, "height": 128, "data": {"name": "tH"}, "transform": [{"filter": "datum.col === 'label'"}], "encoding": {"y": {"field": "row", "type": "nominal", "scale": {"domain": ["header", "Direction", "InRF", "OppRF", "Velocity", "Error", "Latency"]}, "axis": null}, "x": {"datum": "c", "type": "nominal", "axis": null}}, "layer": [{"mark": "rect"}, {"mark": "text", "encoding": {"x": {"datum": "c", "type": "nominal", "bandPosition": 0, "axis": null}, "text": {"field": "value"}, "color": {"condition": {"test": "datum.sig", "value": "#e0262b"}, "value": "black"}, "size": {"condition": {"test": "datum.row === 'header' || datum.col === 'label'", "value": 13}, "value": 10}}}]},
    {"width": 64, "height": 128, "data": {"name": "tH"}, "transform": [{"filter": "datum.col === 'Direction'"}], "encoding": {"y": {"field": "row", "type": "nominal", "scale": {"domain": ["header", "Direction", "InRF", "OppRF", "Velocity", "Error", "Latency"]}, "axis": null}, "x": {"datum": "c", "type": "nominal", "axis": null}}, "layer": [{"mark": "rect"}, {"mark": "text", "encoding": {"x": {"datum": "c", "type": "nominal", "bandPosition": 0, "axis": null}, "text": {"field": "value"}, "color": {"condition": {"test": "datum.sig", "value": "#e0262b"}, "value": "black"}, "size": {"condition": {"test": "datum.row === 'header' || datum.col === 'label'", "value": 13}, "value": 10}}}]},
    {"width": 35, "height": 128, "data": {"name": "tH"}, "transform": [{"filter": "datum.col === 'InRF'"}], "encoding": {"y": {"field": "row", "type": "nominal", "scale": {"domain": ["header", "Direction", "InRF", "OppRF", "Velocity", "Error", "Latency"]}, "axis": null}, "x": {"datum": "c", "type": "nominal", "axis": null}}, "layer": [{"mark": "rect"}, {"mark": "text", "encoding": {"x": {"datum": "c", "type": "nominal", "bandPosition": 0, "axis": null}, "text": {"field": "value"}, "color": {"condition": {"test": "datum.sig", "value": "#e0262b"}, "value": "black"}, "size": {"condition": {"test": "datum.row === 'header' || datum.col === 'label'", "value": 13}, "value": 10}}}]},
    {"width": 48, "height": 128, "data": {"name": "tH"}, "transform": [{"filter": "datum.col === 'OppRF'"}], "encoding": {"y": {"field": "row", "type": "nominal", "scale": {"domain": ["header", "Direction", "InRF", "OppRF", "Velocity", "Error", "Latency"]}, "axis": null}, "x": {"datum": "c", "type": "nominal", "axis": null}}, "layer": [{"mark": "rect"}, {"mark": "text", "encoding": {"x": {"datum": "c", "type": "nominal", "bandPosition": 0, "axis": null}, "text": {"field": "value"}, "color": {"condition": {"test": "datum.sig", "value": "#e0262b"}, "value": "black"}, "size": {"condition": {"test": "datum.row === 'header' || datum.col === 'label'", "value": 13}, "value": 10}}}]},
    {"width": 51, "height": 128, "data": {"name": "tH"}, "transform": [{"filter": "datum.col === 'Velocity'"}], "encoding": {"y": {"field": "row", "type": "nominal", "scale": {"domain": ["header", "Direction", "InRF", "OppRF", "Velocity", "Error", "Latency"]}, "axis": null}, "x": {"datum": "c", "type": "nominal", "axis": null}}, "layer": [{"mark": "rect"}, {"mark": "text", "encoding": {"x": {"datum": "c", "type": "nominal", "bandPosition": 0, "axis": null}, "text": {"field": "value"}, "color": {"condition": {"test": "datum.sig", "value": "#e0262b"}, "value": "black"}, "size": {"condition": {"test": "datum.row === 'header' || datum.col === 'label'", "value": 13}, "value": 10}}}]},
    {"width": 35, "height": 128, "data": {"name": "tH"}, "transform": [{"filter": "datum.col === 'Error'"}], "encoding": {"y": {"field": "row", "type": "nominal", "scale": {"domain": ["header", "Direction", "InRF", "OppRF", "Velocity", "Error", "Latency"]}, "axis": null}, "x": {"datum": "c", "type": "nominal", "axis": null}}, "layer": [{"mark": "rect"}, {"mark": "text", "encoding": {"x": {"datum": "c", "type": "nominal", "bandPosition": 0, "axis": null}, "text": {"field": "value"}, "color": {"condition": {"test": "datum.sig", "value": "#e0262b"}, "value": "black"}, "size": {"condition": {"test": "datum.row === 'header' || datum.col === 'label'", "value": 13}, "value": 10}}}]},
    {"width": 48, "height": 128, "data": {"name": "tH"}, "transform": [{"filter": "datum.col === 'Latency'"}], "encoding": {"y": {"field": "row", "type": "nominal", "scale": {"domain": ["header", "Direction", "InRF", "OppRF", "Velocity", "Error", "Latency"]}, "axis": null}, "x": {"datum": "c", "type": "nominal", "axis": null}}, "layer": [{"mark": "rect"}, {"mark": "text", "encoding": {"x": {"datum": "c", "type": "nominal", "bandPosition": 0, "axis": null}, "text": {"field": "value"}, "color": {"condition": {"test": "datum.sig", "value": "#e0262b"}, "value": "black"}, "size": {"condition": {"test": "datum.row === 'header' || datum.col === 'label'", "value": 13}, "value": 10}}}]}
   ]}
  ]}
 ]}
]
}
